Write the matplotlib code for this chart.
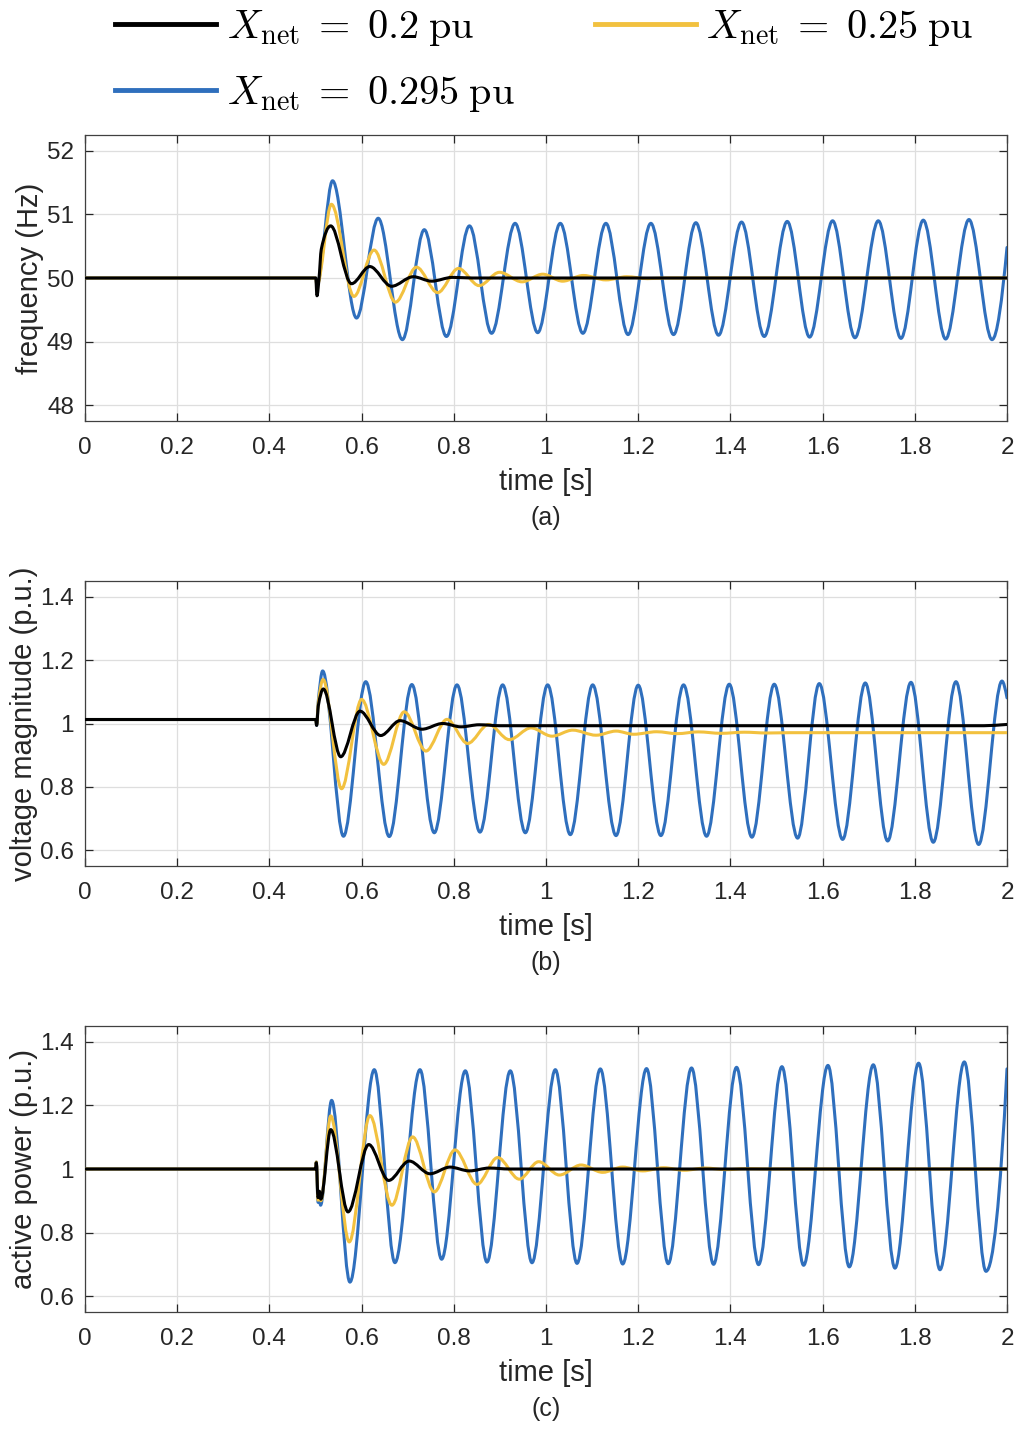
import numpy as np
import matplotlib
matplotlib.use('Agg')
import matplotlib.pyplot as plt
from matplotlib.path import Path
from matplotlib.patches import PathPatch
from matplotlib.lines import Line2D

plt.rcParams['font.family'] = ['Liberation Sans', 'DejaVu Sans']
plt.rcParams['mathtext.fontset'] = 'cm'

# eixo do tempo
time_ticks = [0, 0.2, 0.4, 0.6, 0.8, 1.0, 1.2, 1.4, 1.6, 1.8, 2.0]
time_labels = ['0', '0.2', '0.4', '0.6', '0.8', '1', '1.2', '1.4', '1.6', '1.8', '2']
pu_ticks = [0.6, 0.8, 1.0, 1.2, 1.4]
pu_labels = ['0.6', '0.8', '1', '1.2', '1.4']
freq_ticks = [48, 49, 50, 51, 52]

legend_labels = [r'$X_{\rm net}\;=\;0.2\;{\rm pu}$',
                 r'$X_{\rm net}\;=\;0.25\;{\rm pu}$',
                 r'$X_{\rm net}\;=\;0.295\;{\rm pu}$']

# (a) frequencia (extremos)
f_t_020 = [0.0, 0.5005, 0.5032, 0.5075, 0.5125, 0.533, 0.578, 0.6178, 0.665, 0.712, 0.752, 0.797, 0.84, 2.0]
f_v_020 = [50.0, 50.0, 49.72, 49.98, 50.45, 50.82, 49.91, 50.18, 49.87, 50.02, 49.95, 50.01, 50.0, 50.0]

f_t_025 = [0.0, 0.5005, 0.503, 0.5345, 0.5834, 0.627, 0.6735, 0.719, 0.765, 0.810, 0.855, 0.899,
           0.948, 0.993, 1.036, 1.081, 1.130, 1.175, 1.22, 1.26, 2.0]
f_v_025 = [50.0, 50.0, 49.88, 51.16, 49.71, 50.44, 49.62, 50.17, 49.77, 50.15, 49.88, 50.09,
           49.94, 50.06, 49.95, 50.04, 49.97, 50.02, 49.99, 50.0, 50.0]

f_t_0295 = [0.0, 0.5005, 0.503, 0.537, 0.589, 0.636, 0.6885, 0.736, 0.784, 0.834, 0.882, 0.933,
            0.982, 1.031, 1.080, 1.130, 1.178, 1.2275, 1.2767, 1.3251, 1.3743, 1.4242, 1.4734,
            1.5233, 1.5718, 1.6217, 1.6702, 1.7208, 1.770, 1.8184, 1.8669, 1.9175, 1.9675, 2.0]
f_v_0295 = [50.0, 50.0, 49.9, 51.53, 49.37, 50.94, 49.03, 50.76, 49.08, 50.82, 49.13, 50.86,
            49.14, 50.86, 49.13, 50.86, 49.11, 50.86, 49.11, 50.87, 49.10, 50.88, 49.08,
            50.89, 49.07, 50.90, 49.06, 50.90, 49.05, 50.91, 49.04, 50.92, 49.03, 50.48]

# (b) tensao
u_t_020 = [0.0, 0.5005, 0.5025, 0.506, 0.517, 0.5547, 0.5965, 0.6414, 0.6833, 0.731, 0.7758,
           0.8156, 0.855, 0.90, 1.95, 2.0]
u_v_020 = [1.0126, 1.0126, 0.994, 1.055, 1.109, 0.895, 1.039, 0.962, 1.009, 0.982, 1.0,
           0.9895, 0.996, 0.993, 0.993, 0.997]

u_t_025 = [0.0, 0.5005, 0.5025, 0.506, 0.5165, 0.5565, 0.6, 0.648, 0.6925, 0.7396, 0.7852, 0.83,
           0.8756, 0.9204, 0.9674, 1.013, 1.058, 1.1085, 1.152, 1.19, 1.24, 1.285, 1.33, 1.38,
           1.43, 1.48, 1.53, 2.0]
u_v_025 = [1.0126, 1.0126, 0.996, 1.065, 1.139, 0.794, 1.076, 0.871, 1.037, 0.913, 1.013, 0.937,
           0.997, 0.949, 0.986, 0.960, 0.979, 0.963, 0.976, 0.966, 0.974, 0.968, 0.9735, 0.969,
           0.9725, 0.970, 0.971, 0.971]

u_t_0295 = [0.0, 0.5005, 0.5025, 0.506, 0.5155, 0.5607, 0.609, 0.66, 0.709, 0.7577, 0.8069,
            0.8568, 0.906, 0.9552, 1.0036, 1.0528, 1.1013, 1.1519, 1.2, 1.2492, 1.2984, 1.3483,
            1.3975, 1.4467, 1.4951, 1.5458, 1.5928, 1.6434, 1.6926, 1.7411, 1.7917, 1.8401,
            1.8893, 1.9385, 1.9891, 2.0]
u_v_0295 = [1.0126, 1.0126, 0.994, 1.07, 1.166, 0.644, 1.132, 0.643, 1.123, 0.655, 1.122,
            0.657, 1.122, 0.655, 1.122, 0.649, 1.122, 0.646, 1.121, 0.646, 1.122, 0.644,
            1.124, 0.641, 1.124, 0.638, 1.126, 0.634, 1.128, 0.629, 1.130, 0.625,
            1.132, 0.618, 1.134, 1.081]

# (c) potencia ativa
p_t_020 = [0.0, 0.5, 0.5018, 0.5055, 0.5085, 0.5115, 0.533, 0.5705, 0.6155, 0.6586, 0.7034,
           0.7483, 0.7917, 0.8336, 0.877, 0.92, 2.0]
p_v_020 = [1.0, 1.0, 1.02, 0.91, 0.93, 0.905, 1.124, 0.865, 1.077, 0.964, 1.025,
           0.985, 1.006, 0.994, 1.003, 1.0, 1.0]

p_t_025 = [0.0, 0.5, 0.5018, 0.5055, 0.5085, 0.5115, 0.533, 0.5732, 0.618, 0.6658, 0.7107,
           0.7577, 0.8025, 0.8503, 0.8951, 0.9421, 0.9841, 1.029, 1.076, 1.123, 1.166, 1.21,
           1.255, 1.30, 1.345, 1.39, 1.435, 1.48, 2.0]
p_v_025 = [1.0, 1.0, 1.022, 0.902, 0.915, 0.90, 1.167, 0.7705, 1.168, 0.886, 1.101,
           0.928, 1.06, 0.9516, 1.036, 0.968, 1.023, 0.981, 1.0126, 0.9895, 1.006, 0.994,
           1.004, 0.996, 1.003, 0.998, 1.001, 1.0, 1.0]

p_t_0295 = [0.0, 0.5, 0.5018, 0.5055, 0.5085, 0.511, 0.535, 0.5747, 0.6275, 0.6723, 0.7266,
            0.7736, 0.825, 0.872, 0.9226, 0.9696, 1.0203, 1.0673, 1.1179, 1.1664, 1.2181,
            1.2651, 1.3157, 1.3635, 1.4134, 1.4611, 1.5118, 1.5588, 1.6116, 1.6579, 1.71,
            1.757, 1.8083, 1.8546, 1.9074, 1.9544, 2.0]
p_v_0295 = [1.0, 1.0, 1.022, 0.895, 0.905, 0.886, 1.216, 0.644, 1.3126, 0.7053, 1.3126,
            0.716, 1.309, 0.707, 1.309, 0.705, 1.3126, 0.703, 1.315, 0.701, 1.316,
            0.702, 1.318, 0.700, 1.320, 0.699, 1.322, 0.697, 1.326, 0.692, 1.328,
            0.688, 1.333, 0.683, 1.337, 0.678, 1.315]

c_black = '#000000'
c_yellow = '#F2C13F'
c_blue = '#2F6FBD'


def end_slope(h0, h1, d0, d1):
    m = ((2 * h0 + h1) * d0 - h0 * d1) / (h0 + h1)
    if np.sign(m) != np.sign(d0):
        return 0.0
    if np.sign(d0) != np.sign(d1) and abs(m) > abs(3 * d0):
        return 3 * d0
    return m


# curva suave (bezier cubica) passando pelos pontos lidos
def smooth_curve(t, v):
    t = np.asarray(t, float)
    v = np.asarray(v, float)
    h = np.diff(t)
    d = np.diff(v) / h
    m = np.zeros_like(v)
    for k in range(1, len(v) - 1):
        if d[k - 1] * d[k] > 0:
            w1 = 2 * h[k] + h[k - 1]
            w2 = h[k] + 2 * h[k - 1]
            m[k] = (w1 + w2) / (w1 / d[k - 1] + w2 / d[k])
    m[0] = end_slope(h[0], h[1], d[0], d[1])
    m[-1] = end_slope(h[-1], h[-2], d[-1], d[-2])
    verts = [(t[0], v[0])]
    codes = [Path.MOVETO]
    for k in range(len(h)):
        verts.append((t[k] + h[k] / 3, v[k] + m[k] * h[k] / 3))
        verts.append((t[k + 1] - h[k] / 3, v[k + 1] - m[k + 1] * h[k] / 3))
        verts.append((t[k + 1], v[k + 1]))
        codes += [Path.CURVE4] * 3
    return Path(verts, codes)


def draw_series(ax, t, v, color, z):
    patch = PathPatch(smooth_curve(t, v), facecolor='none', edgecolor=color,
                      linewidth=2.2, joinstyle='round', capstyle='round', zorder=z)
    ax.add_patch(patch)


def style_axes(ax, ylim, yticks, ylabels, ylabel, tag, ylab_x):
    ax.set_xlim(0, 2)
    ax.set_ylim(*ylim)
    ax.set_xticks(time_ticks)
    ax.set_xticklabels(time_labels)
    ax.set_yticks(yticks)
    ax.set_yticklabels(ylabels)
    ax.grid(True, color='#dedede', linewidth=0.9)
    ax.set_axisbelow(True)
    ax.tick_params(direction='in', top=True, right=True, length=6, width=0.9,
                   colors='#262626', labelsize=17.5)
    ax.tick_params(axis='x', pad=11.5)
    ax.tick_params(axis='y', pad=8)
    for s in ax.spines.values():
        s.set_color('#404040')
        s.set_linewidth(0.9)
    ax.set_xlabel('time [s]', fontsize=21, color='#262626', va='center')
    ax.xaxis.set_label_coords(0.5, -0.213)
    ax.set_ylabel(ylabel, fontsize=21, color='#262626')
    ax.yaxis.set_label_coords(ylab_x, 0.5)
    ax.text(0.5, -0.339, tag, transform=ax.transAxes, ha='center', va='center',
            fontsize=18, color='#262626')


fig = plt.figure(figsize=(10.22, 14.34), dpi=100)
left, width = 85 / 1022, 922 / 1022
ax1 = fig.add_axes([left, 1 - 421 / 1434, width, 286 / 1434])
ax2 = fig.add_axes([left, 1 - 866 / 1434, width, 285 / 1434])
ax3 = fig.add_axes([left, 1 - 1312 / 1434, width, 286 / 1434])

panels = [
    (ax1, (f_t_020, f_v_020), (f_t_025, f_v_025), (f_t_0295, f_v_0295)),
    (ax2, (u_t_020, u_v_020), (u_t_025, u_v_025), (u_t_0295, u_v_0295)),
    (ax3, (p_t_020, p_v_020), (p_t_025, p_v_025), (p_t_0295, p_v_0295)),
]
for ax, s020, s025, s0295 in panels:
    draw_series(ax, *s0295, c_blue, 3)
    draw_series(ax, *s025, c_yellow, 4)
    draw_series(ax, *s020, c_black, 5)

style_axes(ax1, (47.75, 52.25), freq_ticks, [str(f) for f in freq_ticks],
           'frequency (Hz)', '(a)', -0.044)
style_axes(ax2, (0.55, 1.45), pu_ticks, pu_labels,
           'voltage magnitude (p.u.)', '(b)', -0.051)
style_axes(ax3, (0.55, 1.45), pu_ticks, pu_labels,
           'active power (p.u.)', '(c)', -0.051)

# legenda (ordem para ficar por linhas)
h_black = Line2D([], [], color=c_black, linewidth=3.5)
h_yellow = Line2D([], [], color=c_yellow, linewidth=3.5)
h_blue = Line2D([], [], color=c_blue, linewidth=3.5)
fig.legend([h_black, h_blue, h_yellow],
           [legend_labels[0], legend_labels[2], legend_labels[1]],
           ncol=2, loc='upper left', bbox_to_anchor=(107 / 1022, 1.0),
           frameon=False, fontsize=29, handlelength=2.5, handletextpad=0.27,
           columnspacing=2.0, labelspacing=0.64, borderpad=0.2, borderaxespad=0)

fig.savefig('out.png', dpi=100)
